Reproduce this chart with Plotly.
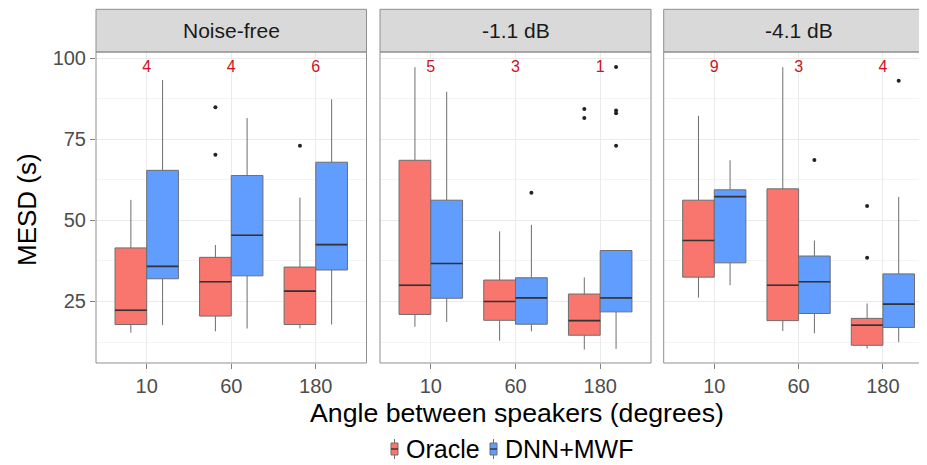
import plotly.graph_objects as go

# ---------------- data ----------------
panels = ["Noise-free", "-1.1 dB", "-4.1 dB"]
angles = ["10", "60", "180"]
counts = [[4, 4, 6], [5, 3, 1], [9, 3, 4]]
series_names = ["Oracle", "DNN+MWF"]

# Oracle boxes: per panel, per angle
oracle_low = [[15.4, 15.8, 16.7], [17.2, 12.9, 10.2], [26.2, 15.9, 10.5]]
oracle_q1 = [[17.9, 20.5, 17.9], [21.0, 19.2, 14.6], [32.5, 19.1, 11.5]]
oracle_med = [[22.3, 31.1, 28.2], [30.0, 25.0, 19.1], [43.8, 30.0, 17.7]]
oracle_q3 = [[41.5, 38.6, 35.6], [68.5, 31.6, 27.3], [56.2, 59.7, 19.8]]
oracle_high = [[56.3, 42.4, 57.0], [97.2, 46.6, 32.4], [82.2, 97.2, 24.4]]
oracle_out = [[[], [84.8, 70.2], [73.0]],
              [[], [], [84.3, 81.5]],
              [[], [], [54.4, 38.5]]]

# DNN+MWF boxes
dnn_low = [[17.7, 16.7, 17.9], [18.7, 15.8, 10.4], [30.0, 15.2, 12.5]]
dnn_q1 = [[32.0, 32.9, 34.7], [26.0, 18.0, 21.8], [36.9, 21.3, 17.0]]
dnn_med = [[35.8, 45.4, 42.5], [36.7, 26.1, 26.1], [57.3, 31.1, 24.2]]
dnn_q3 = [[65.4, 63.8, 67.9], [56.2, 32.3, 40.7], [59.4, 39.0, 33.5]]
dnn_high = [[93.2, 81.5, 87.3], [89.6, 48.6, 40.7], [68.5, 43.8, 57.2]]
dnn_out = [[[], [], []],
           [[], [58.5], [97.2, 83.8, 83.0, 73.0]],
           [[], [68.6], [93.0]]]

count_y = 97.0

# ---------------- style ----------------
ORACLE_COL = "#F8766D"
DNN_COL = "#619CFF"
FONT = "Liberation Sans, Arial, sans-serif"
BORDER = "#8f8f8f"

fig = go.Figure()

dodge = 0.1875
bw = 0.375
cat_pos = [1, 2, 3]
axes = ["x", "x2", "x3"]

series = [
    (series_names[0], ORACLE_COL, -dodge, oracle_low, oracle_q1, oracle_med, oracle_q3, oracle_high, oracle_out),
    (series_names[1], DNN_COL, dodge, dnn_low, dnn_q1, dnn_med, dnn_q3, dnn_high, dnn_out),
]

for p in range(3):
    xa = axes[p]
    for (name, col, off, lo, q1, med, q3, hi, out) in series:
        xs = [c + off for c in cat_pos]
        fig.add_trace(go.Box(
            name=name, legendgroup=name, showlegend=False,
            x=xs, q1=q1[p], median=med[p], q3=q3[p],
            lowerfence=lo[p], upperfence=hi[p],
            width=bw, whiskerwidth=0, boxpoints=False,
            fillcolor=col, line=dict(color="#6e6e6e", width=1),
            xaxis=xa, yaxis="y", hoverinfo="skip",
        ))
        # median lines (darker)
        mx, my = [], []
        for i, c in enumerate(cat_pos):
            mx += [c + off - bw / 2, c + off + bw / 2, None]
            my += [med[p][i], med[p][i], None]
        fig.add_trace(go.Scatter(x=mx, y=my, mode="lines",
                                 line=dict(color="#333333", width=1.6),
                                 showlegend=False, xaxis=xa, yaxis="y",
                                 hoverinfo="skip"))
        # outliers
        ox, oy = [], []
        for i, c in enumerate(cat_pos):
            for v in out[p][i]:
                ox.append(c + off)
                oy.append(v)
        if ox:
            fig.add_trace(go.Scatter(x=ox, y=oy, mode="markers",
                                     marker=dict(color="#222222", size=4),
                                     showlegend=False, xaxis=xa, yaxis="y",
                                     hoverinfo="skip"))
    # counts
    fig.add_trace(go.Scatter(
        x=cat_pos, y=[count_y] * 3, mode="text",
        text=[str(v) for v in counts[p]],
        textfont=dict(color="#C8141E", size=16, family=FONT),
        showlegend=False, xaxis=xa, yaxis="y", hoverinfo="skip"))

# ---------------- layout ----------------
# The page body adds an 8px offset; design in reference pixels and shift.
OFF = 8
W, H = 927 - OFF, 465 - OFF
ml, mr = 96 - OFF, 0
mt = 52 - OFF
mb = H - (363 - OFF)
pw = W - ml - mr
ph = H - mt - mb

def px2x(xr):
    return (xr - OFF - ml) / pw

def py2y(yr):
    return (H - mb - (yr - OFF)) / ph

doms = [[px2x(96), px2x(366.5)], [px2x(380), px2x(651)], [px2x(663.7), 1.0]]
ranges = [[0.4, 3.6], [0.4, 3.6], [0.4, 3.523]]

xcommon = dict(
    tickmode="array", tickvals=cat_pos, ticktext=angles,
    showgrid=True, gridcolor="#EBEBEB", gridwidth=1,
    zeroline=False, showline=False, automargin=False,
    ticks="outside", ticklen=5, tickcolor="#7f7f7f",
    tickfont=dict(family=FONT, size=20, color="#4D4D4D"),
    fixedrange=True,
)
layout_axes = {}
for p in range(3):
    key = "xaxis" if p == 0 else f"xaxis{p+1}"
    d = dict(xcommon)
    d.update(domain=doms[p], range=ranges[p], anchor="y")
    layout_axes[key] = d

fig.update_layout(
    **layout_axes,
    yaxis=dict(
        range=[6.05, 101.85], domain=[0, 1], automargin=False,
        tickvals=[25, 50, 75, 100], ticktext=["25", "50", "75", "100"],
        showgrid=True, gridcolor="#EBEBEB", gridwidth=1,
        minor=dict(tickvals=[12.5, 37.5, 62.5, 87.5], showgrid=True,
                   gridcolor="#F4F4F4", gridwidth=1, ticks=""),
        zeroline=False, showline=False,
        ticks="outside", ticklen=5, tickcolor="#7f7f7f",
        tickfont=dict(family=FONT, size=20, color="#4D4D4D"),
        fixedrange=True,
    ),
    width=W, height=H,
    margin=dict(l=ml, r=mr, t=mt, b=mb, pad=0, autoexpand=False),
    paper_bgcolor="white", plot_bgcolor="white",
    showlegend=False,
    font=dict(family=FONT),
)

# panel borders and strips
strip_top = py2y(9.3)
shapes = []
for p in range(3):
    x0, x1 = doms[p]
    shapes.append(dict(type="rect", xref="paper", yref="paper",
                       x0=x0, x1=x1 + (0.01 if p == 2 else 0), y0=1, y1=strip_top,
                       fillcolor="#D9D9D9", line=dict(color=BORDER, width=1),
                       layer="above"))
    if p < 2:
        shapes.append(dict(type="rect", xref="paper", yref="paper",
                           x0=x0, x1=x1, y0=0, y1=1,
                           line=dict(color=BORDER, width=1), layer="above"))
    else:
        shapes.append(dict(type="path", xref="paper", yref="paper",
                           path=f"M {x1+0.01},1 L {x0},1 L {x0},0 L {x1+0.01},0",
                           line=dict(color=BORDER, width=1), layer="above"))

# legend keys (ggplot style box glyphs)
legend_cols = [ORACLE_COL, DNN_COL]
key_x = [391, 490]
text_x = [406, 505]
ly = 449
for k in range(2):
    kx0, kx1 = key_x[k], key_x[k] + 7
    kxm = (kx0 + kx1) / 2
    shapes.append(dict(type="line", xref="paper", yref="paper",
                       x0=px2x(kxm), x1=px2x(kxm), y0=py2y(ly - 10), y1=py2y(ly + 10),
                       line=dict(color="#6e6e6e", width=1)))
    shapes.append(dict(type="rect", xref="paper", yref="paper",
                       x0=px2x(kx0), x1=px2x(kx1), y0=py2y(ly - 6), y1=py2y(ly + 6),
                       fillcolor=legend_cols[k], line=dict(color="#6e6e6e", width=1)))
    shapes.append(dict(type="line", xref="paper", yref="paper",
                       x0=px2x(kx0), x1=px2x(kx1), y0=py2y(ly), y1=py2y(ly),
                       line=dict(color="#333333", width=1.4)))
fig.update_layout(shapes=shapes)

annos = []
for p in range(3):
    x0 = doms[p][0]
    x1 = doms[p][1] if p < 2 else px2x(663.7 + 270.5)
    annos.append(dict(text=panels[p], xref="paper", yref="paper",
                      x=(x0 + x1) / 2, y=(1 + strip_top) / 2, showarrow=False,
                      font=dict(family=FONT, size=21, color="#1A1A1A"),
                      xanchor="center", yanchor="middle"))
for k in range(2):
    annos.append(dict(text=series_names[k], xref="paper", yref="paper",
                      x=px2x(text_x[k]), y=py2y(ly), showarrow=False,
                      font=dict(family=FONT, size=25, color="black"),
                      xanchor="left", yanchor="middle", xshift=-2))
annos.append(dict(text="Angle between speakers (degrees)", xref="paper", yref="paper",
                  x=px2x(517), y=py2y(413), showarrow=False,
                  font=dict(family=FONT, size=26.7, color="black"),
                  xanchor="center", yanchor="middle"))
annos.append(dict(text="MESD (s)", xref="paper", yref="paper",
                  x=px2x(27), y=py2y(210), showarrow=False, textangle=-90,
                  font=dict(family=FONT, size=26, color="black"),
                  xanchor="center", yanchor="middle"))
fig.update_layout(annotations=annos)

fig.write_html("out.html")
